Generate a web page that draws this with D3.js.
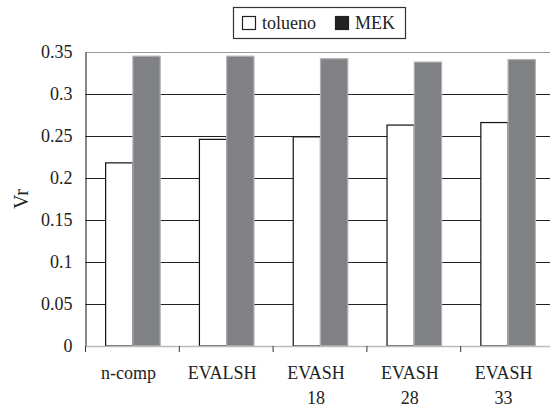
<!DOCTYPE html>
<meta charset="utf-8">
<head>
    <meta charset="utf-8">
    <script src="https://d3js.org/d3.v7.min.js"></script>
</head>
<style>
    body { margin: 0; background: #fff; }
    svg text { font-family: "Liberation Serif", "Times New Roman", Times, serif !important; }
</style>
<body>
<div id="chart"></div>
<script>
    // data
    const categories = [["n-comp"], ["EVALSH"], ["EVASH", "18"], ["EVASH", "28"], ["EVASH", "33"]];
    const tolueno = [0.218, 0.246, 0.249, 0.263, 0.266];
    const mek = [0.345, 0.345, 0.342, 0.338, 0.341];
    const seriesNames = ["tolueno", "MEK"];
    const yTicks = [0, 0.05, 0.1, 0.15, 0.2, 0.25, 0.3, 0.35];

    const W = 550, H = 406;
    const x0 = 85.5, x1 = 554.5, yTop = 52, yBot = 346;

    const svg = d3.select("#chart").append("svg")
        .attr("width", W).attr("height", H);

    const labels = categories.map(c => c.join(" "));
    const x = d3.scaleBand().domain(labels).range([x0, x1]).paddingInner(0).paddingOuter(0);
    const y = d3.scaleLinear().domain([0, 0.35]).range([yBot, yTop]);

    // gridlines
    svg.append("g").selectAll("line")
        .data(yTicks.filter(d => d > 0))
        .join("line")
        .attr("x1", x0).attr("x2", x1)
        .attr("y1", d => Math.round(y(d)) + 0.5).attr("y2", d => Math.round(y(d)) + 0.5)
        .attr("stroke", d => d === 0.35 ? "#999" : "#222")
        .attr("stroke-width", 1);

    // y axis
    const yAxis = svg.append("g")
        .attr("transform", `translate(${x0},0)`)
        .call(d3.axisLeft(y).tickValues(yTicks).tickSize(0).tickPadding(13)
            .tickFormat(d => d3.format("")(+d.toFixed(2))));
    yAxis.attr("font-family", null);
    yAxis.select(".domain").attr("stroke", "#111");
    yAxis.selectAll("text").attr("font-size", 18).attr("fill", "#222");

    // bars
    const inner = d3.scaleBand().domain(seriesNames)
        .range([0, x.bandwidth()]).paddingInner(0).paddingOuter(0.72);
    const colors = { tolueno: "#ffffff", MEK: "#808184" };
    const strokes = { tolueno: "#111", MEK: "#b0b0b0" };

    const groups = svg.append("g").selectAll("g")
        .data(labels.map((l, i) => ({ l, vals: [tolueno[i], mek[i]] })))
        .join("g")
        .attr("transform", d => `translate(${x(d.l)},0)`);
    groups.selectAll("rect")
        .data(d => d.vals.map((v, j) => ({ key: seriesNames[j], v })))
        .join("rect")
        .attr("x", d => inner(d.key) + 0.5)
        .attr("width", inner.bandwidth())
        .attr("y", d => y(d.v))
        .attr("height", d => yBot - y(d.v))
        .attr("fill", d => colors[d.key])
        .attr("stroke", d => strokes[d.key])
        .attr("stroke-width", 1.2);

    // x axis baseline + ticks
    svg.append("line")
        .attr("x1", x0).attr("x2", x1).attr("y1", yBot + 0.5).attr("y2", yBot + 0.5)
        .attr("stroke", "#bbb").attr("stroke-width", 1.5);
    svg.append("g").selectAll("line")
        .data(labels)
        .join("line")
        .attr("x1", d => x(d)).attr("x2", d => x(d))
        .attr("y1", yBot).attr("y2", yBot + 6)
        .attr("stroke", "#333");

    // x labels
    const xl = svg.append("g").selectAll("text")
        .data(categories)
        .join("text")
        .attr("x", (d, i) => x(labels[i]) + x.bandwidth() / 2 - 4)
        .attr("y", 379)
        .attr("text-anchor", "middle")
        .attr("font-size", 18)
        .attr("fill", "#222");
    xl.selectAll("tspan")
        .data(d => d)
        .join("tspan")
        .attr("x", function () { return d3.select(this.parentNode).attr("x"); })
        .attr("dy", (d, i) => i === 0 ? 0 : 24.5)
        .text(d => d);

    // y title
    svg.append("text")
        .attr("transform", `translate(28,${(yTop + yBot) / 2}) rotate(-90)`)
        .attr("text-anchor", "middle")
        .attr("font-size", 20)
        .attr("fill", "#222")
        .text("Vr");

    // legend
    const lg = svg.append("g");
    lg.append("rect").attr("x", 233.5).attr("y", 7.5).attr("width", 172).attr("height", 31)
        .attr("fill", "#fff").attr("stroke", "#333").attr("stroke-width", 1.2);
    const lx = [242, 335];
    const lfill = ["#fff", "#222"];
    seriesNames.forEach((s, i) => {
        lg.append("rect").attr("x", lx[i] + 0.5).attr("y", 16.5).attr("width", 13).attr("height", 13)
            .attr("fill", lfill[i]).attr("stroke", "#222").attr("stroke-width", 1.2);
        lg.append("text").attr("x", lx[i] + 20).attr("y", 29)
            .attr("font-size", 18).attr("fill", "#222").text(s);
    });
</script>
</body>
